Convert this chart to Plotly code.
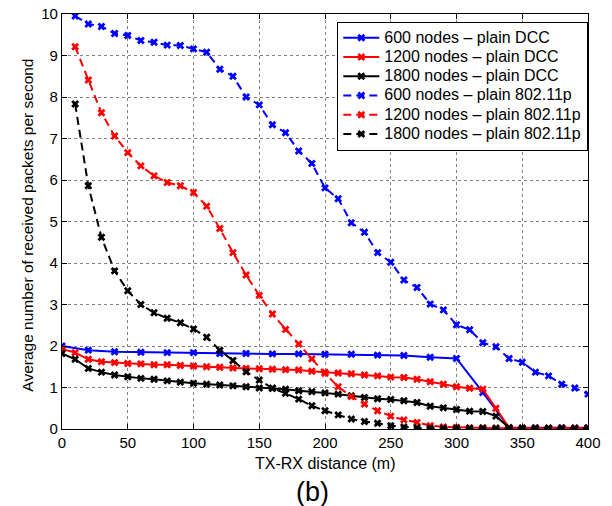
import plotly.graph_objects as go

# distances
x_dcc_600 = list(range(0, 401, 20))
x_dcc = list(range(0, 401, 10))
x_p = list(range(10, 401, 10))

dcc_600 = [2.00, 1.90, 1.86, 1.85, 1.84, 1.84, 1.82, 1.82, 1.81, 1.81, 1.80,
           1.80, 1.78, 1.77, 1.73, 1.70, 0.88, 0.03, 0.03, 0.03, 0.03]

dcc_1200 = [1.93, 1.84, 1.68, 1.62, 1.60, 1.58, 1.57, 1.55, 1.55, 1.53,
            1.52, 1.50, 1.49, 1.47, 1.46, 1.45, 1.44, 1.43, 1.42, 1.39,
            1.37, 1.35, 1.33, 1.30, 1.28, 1.25, 1.24, 1.20, 1.14, 1.08,
            1.02, 0.98, 0.96, 0.50, 0.03, 0.02, 0.02, 0.02, 0.02, 0.02, 0.02]

dcc_1800 = [1.82, 1.68, 1.46, 1.37, 1.30, 1.26, 1.22, 1.20, 1.16, 1.13,
            1.10, 1.08, 1.06, 1.04, 1.02, 0.99, 0.98, 0.96, 0.92, 0.90,
            0.87, 0.84, 0.80, 0.76, 0.73, 0.71, 0.68, 0.64, 0.55, 0.51,
            0.47, 0.43, 0.42, 0.31, 0.03, 0.02, 0.02, 0.02, 0.02, 0.02, 0.02]

p_600 = [9.95, 9.76, 9.70, 9.53, 9.48, 9.36, 9.32, 9.25, 9.24, 9.16,
         9.08, 8.67, 8.50, 8.00, 7.81, 7.33, 7.14, 6.70, 6.40, 5.81,
         5.55, 4.97, 4.74, 4.25, 4.02, 3.59, 3.41, 3.01, 2.87, 2.51,
         2.39, 2.08, 1.98, 1.70, 1.61, 1.37, 1.28, 1.08, 0.99, 0.84]

p_1200 = [9.21, 8.41, 7.62, 7.06, 6.66, 6.34, 6.10, 5.94, 5.86, 5.70,
          5.37, 4.83, 4.25, 3.71, 3.22, 2.77, 2.40, 2.05, 1.69, 1.34,
          1.02, 0.78, 0.60, 0.44, 0.31, 0.22, 0.16, 0.08, 0.05, 0.04,
          0.03, 0.03, 0.02, 0.02, 0.02, 0.02, 0.02, 0.02, 0.02, 0.02]

p_1800 = [7.83, 5.86, 4.62, 3.81, 3.33, 3.00, 2.80, 2.67, 2.56, 2.41,
          2.21, 1.90, 1.65, 1.38, 1.18, 0.98, 0.86, 0.72, 0.56, 0.44,
          0.34, 0.24, 0.18, 0.14, 0.08, 0.05, 0.03, 0.02, 0.02, 0.02,
          0.02, 0.02, 0.02, 0.02, 0.02, 0.02, 0.02, 0.02, 0.02, 0.02]

names = ["600 nodes – plain DCC", "1200 nodes – plain DCC", "1800 nodes – plain DCC",
         "600 nodes – plain 802.11p", "1200 nodes – plain 802.11p", "1800 nodes – plain 802.11p"]

series = [
    (x_dcc_600, dcc_600, "#0000ff", "solid"),
    (x_dcc, dcc_1200, "#ff0000", "solid"),
    (x_dcc, dcc_1800, "#000000", "solid"),
    (x_p, p_600, "#0000ff", "8px,5px"),
    (x_p, p_1200, "#ff0000", "8px,5px"),
    (x_p, p_1800, "#000000", "8px,5px"),
]

FONT = "Liberation Sans, Arial, Helvetica, sans-serif"

fig = go.Figure()
for (xs, ys, c, d), n in zip(series, names):
    fig.add_trace(go.Scatter(
        x=xs, y=ys, name='<span style="font-size:16px">' + n + '</span>',
        mode="lines+markers",
        line=dict(color=c, width=2, dash=d),
        marker=dict(symbol="x", size=7, color=c, line=dict(width=0)),
    ))

axis_common = dict(
    showline=True, linecolor="black", linewidth=1.3, mirror="ticks",
    ticks="inside", ticklen=5, tickcolor="black", tickwidth=1,
    showgrid=True, gridcolor="#808080", gridwidth=1, griddash="dot",
    zeroline=False, automargin=False, ticklabeloverflow="allow",
    tickfont=dict(family=FONT, size=15, color="black"),
)

fig.update_xaxes(range=[0, 400], tickmode="linear", tick0=0, dtick=50, **axis_common)
fig.update_yaxes(range=[0, 10], tickmode="linear", tick0=0, dtick=1, **axis_common)

fig.update_layout(
    width=612, height=506,
    margin=dict(l=62, r=24, t=14, b=77),
    paper_bgcolor="white", plot_bgcolor="white",
    font=dict(family=FONT, size=15, color="black"),
    showlegend=True,
    legend=dict(
        x=1, y=0.981, xanchor="right", yanchor="top",
        bgcolor="white", bordercolor="black", borderwidth=1.3,
        font=dict(family=FONT, size=12.5, color="black"),
        tracegroupgap=0, itemwidth=36,
    ),
    annotations=[
        dict(text="TX-RX distance (m)", xref="paper", yref="paper",
             x=0.5, y=-0.0843, xanchor="center", yanchor="middle",
             showarrow=False, font=dict(family=FONT, size=16, color="black")),
        dict(text="(b)", xref="paper", yref="paper",
             x=0.476, y=-0.152, xanchor="center", yanchor="middle",
             showarrow=False, font=dict(family=FONT, size=27, color="black")),
        dict(text="Average number of received packets per second", xref="paper", yref="paper",
             x=-0.0646, y=0.49, xanchor="center", yanchor="middle", textangle=-90,
             showarrow=False, font=dict(family=FONT, size=15.5, color="black")),
    ],
)

# remove the default page margin so the figure fills the window exactly
fig.write_html("out.html", config={"displayModeBar": False},
               post_script="document.body.style.margin='0';")
